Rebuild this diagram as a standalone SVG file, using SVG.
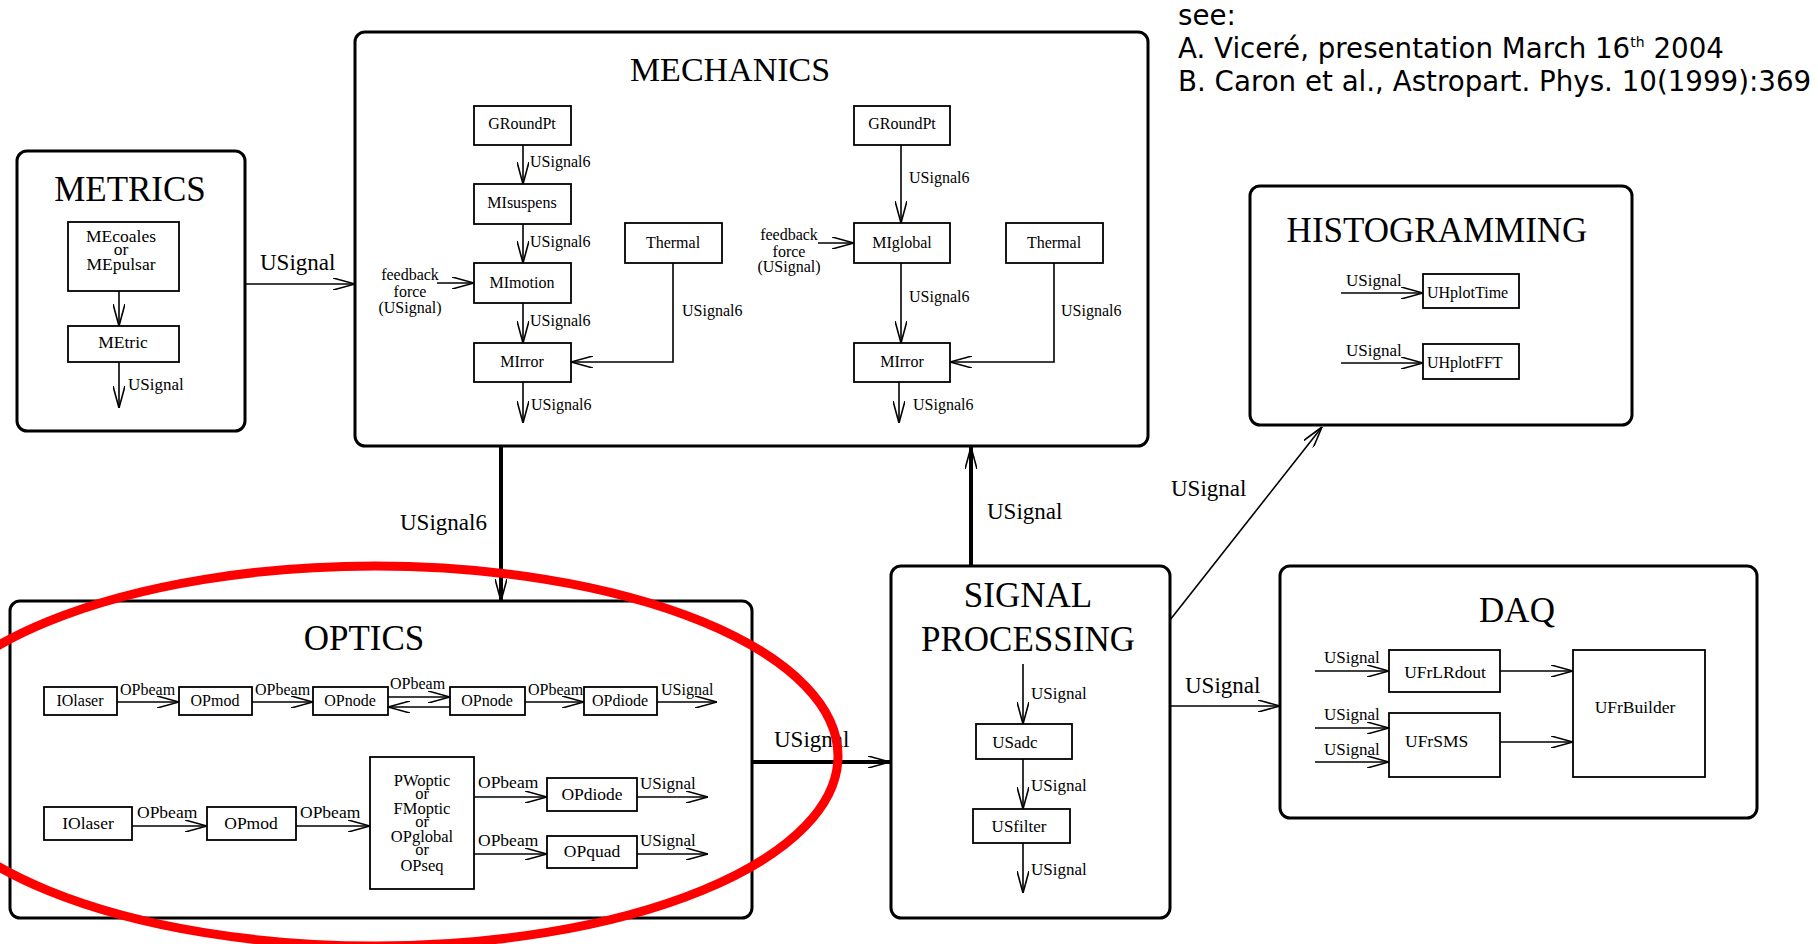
<svg xmlns="http://www.w3.org/2000/svg" width="1818" height="944" viewBox="0 0 1818 944">
<defs>
<style>
.big{fill:#fff;stroke:#000;stroke-width:3}
.box{fill:#fff;stroke:#000;stroke-width:1.8}
.ln{stroke:#000;stroke-width:1.6;fill:none;marker-end:url(#ah)}
.thick{stroke:#000;stroke-width:4;fill:none;marker-end:url(#ah)}
text{font-family:"Liberation Serif","Times New Roman",serif;fill:#000}
.ti{font-size:35px;text-anchor:middle}
.m{text-anchor:middle}
.f16{font-size:16px}
.f17{font-size:17px}
.f18{font-size:17.5px}
.fo{font-size:16.5px;text-anchor:middle}
.f23{font-size:23px}
.ref{font-family:"DejaVu Sans",sans-serif;font-size:27.7px}
</style>
<marker id="ah" viewBox="0 0 22 12" refX="22" refY="6" markerWidth="22" markerHeight="12" markerUnits="userSpaceOnUse" orient="auto">
<path d="M0,0 L22,6 L0,12" fill="none" stroke="#000" stroke-width="1.6"/>
</marker>
</defs>
<rect width="1818" height="944" fill="#fff"/>

<g id="metrics">
<rect class="big" x="17" y="151" width="228" height="280" rx="10"/>
<text class="ti" x="130" y="201">METRICS</text>
<rect class="box" x="68" y="222" width="111" height="69"/>
<text class="f18 m" x="121" y="242">MEcoales</text>
<text class="f18 m" x="121" y="255">or</text>
<text class="f18 m" x="121" y="270">MEpulsar</text>
<line class="ln" x1="119" y1="291" x2="119" y2="326"/>
<rect class="box" x="68" y="326" width="111" height="36"/>
<text class="f18 m" x="123" y="348">MEtric</text>
<line class="ln" x1="119" y1="362" x2="119" y2="408"/>
<text class="f17" x="128" y="390">USignal</text>
</g>

<g id="mechanics">
<rect class="big" x="355" y="32" width="793" height="414" rx="10"/>
<text class="m" style="font-size:34px" x="730" y="81">MECHANICS</text>
<rect class="box" x="474" y="106" width="97" height="39"/>
<text class="f16 m" x="522" y="129">GRoundPt</text>
<rect class="box" x="474" y="184" width="97" height="40"/>
<text class="f16 m" x="522" y="208">MIsuspens</text>
<rect class="box" x="474" y="263" width="97" height="40"/>
<text class="f16 m" x="522" y="288">MImotion</text>
<rect class="box" x="474" y="343" width="97" height="39"/>
<text class="f16 m" x="522" y="367">MIrror</text>
<rect class="box" x="625" y="223" width="97" height="40"/>
<text class="f16 m" x="673" y="248">Thermal</text>
<rect class="box" x="854" y="106" width="96" height="39"/>
<text class="f16 m" x="902" y="129">GRoundPt</text>
<rect class="box" x="854" y="223" width="96" height="40"/>
<text class="f16 m" x="902" y="248">MIglobal</text>
<rect class="box" x="1006" y="223" width="97" height="40"/>
<text class="f16 m" x="1054" y="248">Thermal</text>
<rect class="box" x="854" y="343" width="96" height="39"/>
<text class="f16 m" x="902" y="367">MIrror</text>

<line class="ln" x1="523" y1="145" x2="523" y2="184"/>
<text class="f16" x="530" y="167">USignal6</text>
<line class="ln" x1="523" y1="224" x2="523" y2="263"/>
<text class="f16" x="530" y="247">USignal6</text>
<line class="ln" x1="523" y1="303" x2="523" y2="343"/>
<text class="f16" x="530" y="326">USignal6</text>
<line class="ln" x1="523" y1="382" x2="523" y2="423"/>
<text class="f16" x="531" y="410">USignal6</text>
<text class="f16 m" x="410" y="280">feedback</text>
<text class="f16 m" x="410" y="297">force</text>
<text class="f16 m" x="410" y="313">(USignal)</text>
<line class="ln" x1="437" y1="283" x2="474" y2="283"/>
<path class="ln" d="M673,263 V362 H571"/>
<text class="f16" x="682" y="316">USignal6</text>

<line class="ln" x1="901" y1="145" x2="901" y2="223"/>
<text class="f16" x="909" y="183">USignal6</text>
<text class="f16 m" x="789" y="240">feedback</text>
<text class="f16 m" x="789" y="257">force</text>
<text class="f16 m" x="789" y="272">(USignal)</text>
<line class="ln" x1="818" y1="243" x2="854" y2="243"/>
<line class="ln" x1="901" y1="263" x2="901" y2="343"/>
<text class="f16" x="909" y="302">USignal6</text>
<path class="ln" d="M1054,263 V362 H950"/>
<text class="f16" x="1061" y="316">USignal6</text>
<line class="ln" x1="899" y1="382" x2="899" y2="423"/>
<text class="f16" x="913" y="410">USignal6</text>
</g>

<g id="histogramming">
<rect class="big" x="1250" y="186" width="382" height="239" rx="10"/>
<text class="ti" x="1437" y="242">HISTOGRAMMING</text>
<rect class="box" x="1423" y="274" width="96" height="34"/>
<text class="f16" x="1427" y="298">UHplotTime</text>
<line class="ln" x1="1341" y1="293" x2="1423" y2="293"/>
<text class="f17" x="1346" y="286">USignal</text>
<rect class="box" x="1423" y="344" width="96" height="35"/>
<text class="f16" x="1427" y="368">UHplotFFT</text>
<line class="ln" x1="1341" y1="363" x2="1423" y2="363"/>
<text class="f17" x="1346" y="356">USignal</text>
</g>

<g id="optics">
<rect class="big" x="10" y="601" width="742" height="317" rx="10"/>
<text class="ti" x="364" y="650">OPTICS</text>
<rect class="box" x="44" y="687" width="73" height="28"/>
<text class="f16 m" x="80" y="706">IOlaser</text>
<rect class="box" x="179" y="687" width="73" height="28"/>
<text class="f16 m" x="215" y="706">OPmod</text>
<rect class="box" x="313" y="687" width="75" height="28"/>
<text class="f16 m" x="350" y="706">OPnode</text>
<rect class="box" x="450" y="687" width="75" height="28"/>
<text class="f16 m" x="487" y="706">OPnode</text>
<rect class="box" x="584" y="687" width="73" height="28"/>
<text class="f16 m" x="620" y="706">OPdiode</text>
<line class="ln" x1="117" y1="702" x2="179" y2="702"/>
<text class="f16" x="120" y="695">OPbeam</text>
<line class="ln" x1="252" y1="702" x2="313" y2="702"/>
<text class="f16" x="255" y="695">OPbeam</text>
<line class="ln" x1="388" y1="697" x2="450" y2="697"/>
<line class="ln" x1="450" y1="707" x2="388" y2="707"/>
<text class="f16" x="390" y="689">OPbeam</text>
<line class="ln" x1="525" y1="702" x2="584" y2="702"/>
<text class="f16" x="528" y="695">OPbeam</text>
<line class="ln" x1="657" y1="702" x2="717" y2="702"/>
<text class="f16" x="661" y="695">USignal</text>

<rect class="box" x="44" y="807" width="88" height="33"/>
<text class="f18 m" x="88" y="829">IOlaser</text>
<rect class="box" x="207" y="807" width="89" height="33"/>
<text class="f18 m" x="251" y="829">OPmod</text>
<line class="ln" x1="132" y1="826" x2="207" y2="826"/>
<text class="f18" x="137" y="818">OPbeam</text>
<line class="ln" x1="296" y1="826" x2="370" y2="826"/>
<text class="f18" x="300" y="818">OPbeam</text>
<rect class="box" x="370" y="757" width="104" height="132"/>
<text class="fo" x="422" y="786">PWoptic</text>
<text class="fo" x="422" y="799">or</text>
<text class="fo" x="422" y="814">FMoptic</text>
<text class="fo" x="422" y="827">or</text>
<text class="fo" x="422" y="842">OPglobal</text>
<text class="fo" x="422" y="855">or</text>
<text class="fo" x="422" y="871">OPseq</text>
<line class="ln" x1="474" y1="797" x2="547" y2="797"/>
<text class="f18" x="478" y="788">OPbeam</text>
<rect class="box" x="547" y="778" width="90" height="33"/>
<text class="f18 m" x="592" y="800">OPdiode</text>
<line class="ln" x1="637" y1="797" x2="708" y2="797"/>
<text class="f17" x="640" y="789">USignal</text>
<line class="ln" x1="474" y1="854" x2="547" y2="854"/>
<text class="f18" x="478" y="846">OPbeam</text>
<rect class="box" x="547" y="836" width="90" height="32"/>
<text class="f18 m" x="592" y="857">OPquad</text>
<line class="ln" x1="637" y1="854" x2="708" y2="854"/>
<text class="f17" x="640" y="846">USignal</text>
</g>

<g id="signal-processing">
<rect class="big" x="891" y="566" width="279" height="352" rx="10"/>
<text class="ti" x="1028" y="607">SIGNAL</text>
<text class="ti" x="1028" y="651">PROCESSING</text>
<line class="ln" x1="1023" y1="664" x2="1023" y2="724"/>
<text class="f17" x="1031" y="699">USignal</text>
<rect class="box" x="976" y="724" width="96" height="35"/>
<text class="f17 m" x="1015" y="748">USadc</text>
<line class="ln" x1="1023" y1="759" x2="1023" y2="809"/>
<text class="f17" x="1031" y="791">USignal</text>
<rect class="box" x="973" y="809" width="97" height="34"/>
<text class="f17 m" x="1019" y="832">USfilter</text>
<line class="ln" x1="1023" y1="843" x2="1023" y2="893"/>
<text class="f17" x="1031" y="875">USignal</text>
</g>

<g id="daq">
<rect class="big" x="1280" y="566" width="477" height="252" rx="10"/>
<text class="ti" x="1517" y="622">DAQ</text>
<rect class="box" x="1389" y="650" width="111" height="42"/>
<text class="f18 m" x="1445" y="678">UFrLRdout</text>
<rect class="box" x="1389" y="713" width="111" height="64"/>
<text class="f18" x="1405" y="747">UFrSMS</text>
<rect class="box" x="1573" y="650" width="132" height="127"/>
<text class="f18 m" x="1635" y="713">UFrBuilder</text>
<line class="ln" x1="1500" y1="671" x2="1573" y2="671"/>
<line class="ln" x1="1500" y1="742" x2="1573" y2="742"/>
<line class="ln" x1="1315" y1="671" x2="1389" y2="671"/>
<text class="f17" x="1324" y="663">USignal</text>
<line class="ln" x1="1315" y1="728" x2="1389" y2="728"/>
<text class="f17" x="1324" y="720">USignal</text>
<line class="ln" x1="1315" y1="762" x2="1389" y2="762"/>
<text class="f17" x="1324" y="755">USignal</text>
</g>

<g id="connectors">
<line class="ln" x1="245" y1="284" x2="355" y2="284"/>
<text class="f23" x="260" y="270">USignal</text>
<line class="thick" x1="501" y1="446" x2="501" y2="601"/>
<text class="f23" x="400" y="530">USignal6</text>
<line class="thick" x1="971" y1="566" x2="971" y2="447"/>
<text class="f23" x="987" y="519">USignal</text>
<line class="thick" x1="752" y1="762" x2="890" y2="762"/>
<text class="f23" x="774" y="747">USignal</text>
<line class="ln" x1="1170" y1="620" x2="1322" y2="427"/>
<text class="f23" x="1171" y="496">USignal</text>
<line class="ln" x1="1170" y1="706" x2="1280" y2="706"/>
<text class="f23" x="1185" y="693">USignal</text>
</g>

<g id="references">
<text class="ref" x="1178" y="25">see:</text>
<text class="ref" x="1178" y="58">A. Viceré, presentation March 16<tspan style="font-size:14px" dy="-11">th</tspan><tspan dy="11"> 2004</tspan></text>
<text class="ref" x="1178" y="91">B. Caron et al., Astropart. Phys. 10(1999):369</text>
</g>

<ellipse id="highlight" cx="375" cy="756" rx="463" ry="190" fill="none" stroke="#ff0000" stroke-width="9"/>
</svg>
